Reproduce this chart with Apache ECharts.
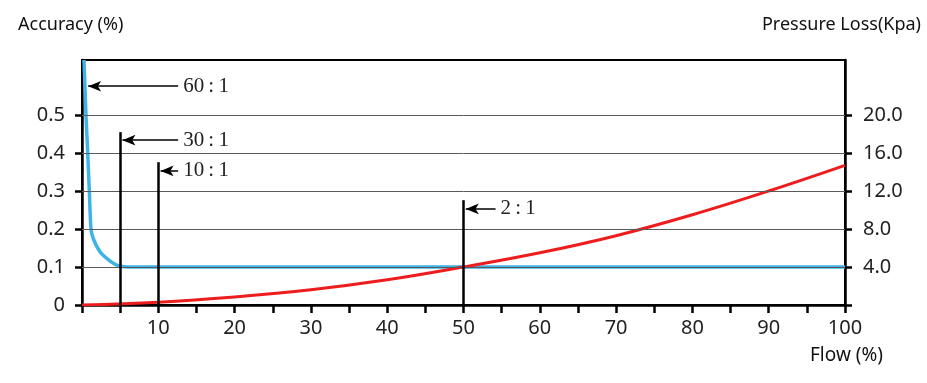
<!DOCTYPE html>
<html>
<head>
<meta charset="utf-8">
<script src="https://cdn.jsdelivr.net/npm/echarts@6/dist/echarts.min.js"></script>
<style>
  html, body { margin: 0; padding: 0; background: #fff; }
  #chart { width: 927px; height: 383px; }
</style>
</head>
<body>
<div id="chart"></div>
<script>
// accuracy curve: [flow %, accuracy %]
const accuracyPts = [
  [0.26, 0.645], [0.52, 0.5], [0.75, 0.4], [0.96, 0.3], [1.18, 0.2],
  [1.48, 0.175], [2.36, 0.14], [3.4, 0.12], [4.55, 0.105], [6, 0.1], [100, 0.1]
];
// pressure loss curve
const flowSteps = [0, 10, 20, 30, 40, 50, 60, 70, 80, 90, 100];
const pressureVals = [0, 0.3, 0.85, 1.6, 2.65, 4.0, 5.5, 7.3, 9.5, 12.0, 14.7];

const accTicks = [0, 0.1, 0.2, 0.3, 0.4, 0.5];
const accGrid = [0.1, 0.2, 0.3, 0.4, 0.5];
const pressTicks = [0, 4, 8, 12, 16, 20];

// turndown markers: flow, top of bar, arrow y, arrow tail flow, label
const ratioFlow = [0.5, 5, 10, 50];
const ratioTop = [null, 0.455, 0.376, 0.276];
const ratioArrowY = [0.576, 0.434, 0.353, 0.253];
const ratioTail = [12.6, 12.6, 12.6, 54.2];
const ratioLabels = ['60\u2009:\u20091', '30\u2009:\u20091', '10\u2009:\u20091', '2\u2009:\u20091'];

const chart = echarts.init(document.getElementById('chart'));

const markData = [];
accGrid.forEach(v => markData.push({
  yAxis: v, label: { show: false },
  lineStyle: { color: '#5a5a5a', width: 1, type: 'solid' }
}));
ratioFlow.forEach((f, i) => {
  if (ratioTop[i] != null) {
    markData.push([
      { coord: [f, 0], lineStyle: { color: '#000', width: 2.5, type: 'solid' }, label: { show: false } },
      { coord: [f, ratioTop[i]] }
    ]);
  }
  markData.push([
    {
      coord: [ratioTail[i], ratioArrowY[i]], symbol: 'none',
      lineStyle: { color: '#000', width: 1.5, type: 'solid' },
      label: {
        show: true, position: 'start', formatter: ratioLabels[i], distance: 5,
        color: '#222', fontSize: 21, fontFamily: 'Liberation Serif'
      }
    },
    { coord: [f + 0.3, ratioArrowY[i]], symbol: 'arrow', symbolSize: [8, 13] }
  ]);
});

chart.setOption({
  animation: false,
  grid: {
    left: 82, right: 82, top: 60, bottom: 78,
    show: true, borderColor: '#000', borderWidth: 2, backgroundColor: 'transparent'
  },
  graphic: [
    { type: 'text', left: 18, top: 16, style: { text: 'Accuracy (%)', fontSize: 18, fontFamily: 'Noto Sans', fill: '#111' } },
    { type: 'text', right: 6, top: 16, style: { text: 'Pressure Loss(Kpa)', fontSize: 18, fontFamily: 'Noto Sans', fill: '#111' } },
    { type: 'text', left: 810, top: 346, style: { text: 'Flow (%)', fontSize: 19, fontFamily: 'Noto Sans', fill: '#111' } }
  ],
  xAxis: {
    type: 'value', min: 0, max: 100, interval: 5,
    axisLine: { lineStyle: { color: '#000', width: 2.5 } },
    axisTick: { show: true, length: 8, lineStyle: { color: '#000', width: 2.5 } },
    axisLabel: {
      color: '#222', fontSize: 20, fontFamily: 'Noto Sans', margin: 13,
      formatter: v => (v > 0 && v % 10 === 0) ? String(v) : ''
    },
    splitLine: { show: false }
  },
  yAxis: [
    {
      type: 'value', min: 0, max: 0.645, interval: 0.1,
      axisLine: { show: true, lineStyle: { color: '#000', width: 2.5 } },
      axisTick: { show: true, length: 7, customValues: accTicks, lineStyle: { color: '#000', width: 2.5 } },
      axisLabel: {
        customValues: accTicks, color: '#222', fontSize: 20, fontFamily: 'Noto Sans', margin: 17,
        formatter: v => v === 0 ? '0' : v.toFixed(1)
      },
      splitLine: { show: false }
    },
    {
      type: 'value', min: 0, max: 25.8, interval: 4, position: 'right',
      axisLine: { show: true, lineStyle: { color: '#000', width: 2.5 } },
      axisTick: { show: true, length: 7, customValues: pressTicks, lineStyle: { color: '#000', width: 2.5 } },
      axisLabel: {
        customValues: pressTicks, color: '#222', fontSize: 20, fontFamily: 'Noto Sans', margin: 18,
        formatter: v => v === 0 ? '' : v.toFixed(1)
      },
      splitLine: { show: false }
    }
  ],
  series: [
    {
      name: 'helper', type: 'line', yAxisIndex: 0, data: [], silent: true,
      markLine: { silent: true, animation: false, symbol: ['none', 'none'], data: markData }
    },
    {
      name: 'Accuracy', type: 'line', yAxisIndex: 0, data: accuracyPts,
      smooth: 0.25, showSymbol: false, z: 3,
      lineStyle: { color: '#3db3e6', width: 3.5 }
    },
    {
      name: 'Pressure Loss', type: 'line', yAxisIndex: 1,
      data: flowSteps.map((f, i) => [f, pressureVals[i]]),
      smooth: 0.4, showSymbol: false, z: 4,
      lineStyle: { color: '#ee1d1d', width: 3 }
    }
  ]
});
</script>
</body>
</html>
